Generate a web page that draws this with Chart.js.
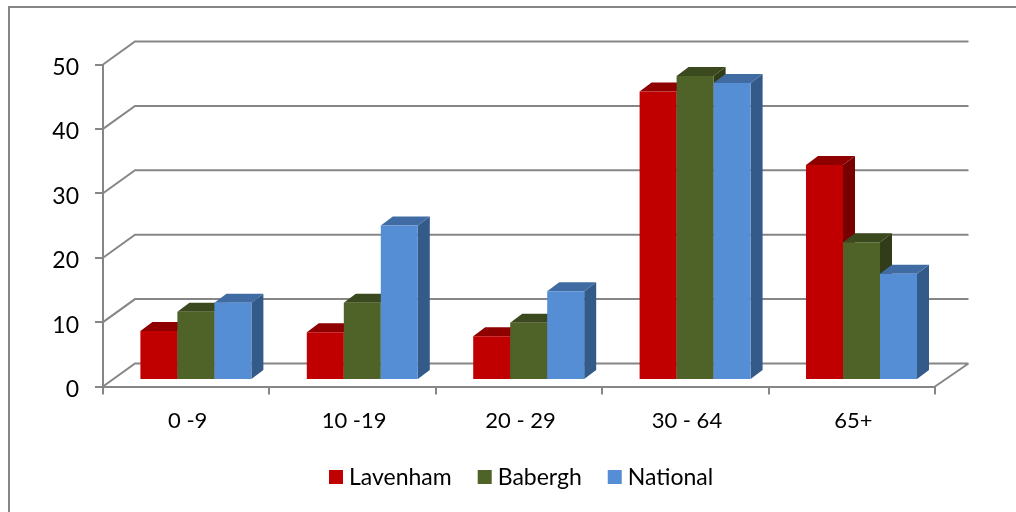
<!DOCTYPE html>
<html>
<head>
<meta charset="utf-8">
<script src="https://cdn.jsdelivr.net/npm/chart.js@4"></script>
<style>
  html, body { margin: 0; padding: 0; background: #fff; }
  #wrap { position: relative; width: 1016px; height: 512px; overflow: hidden; }
</style>
</head>
<body>
<div id="wrap"><canvas id="myChart" width="1016" height="512"></canvas></div>
<script>
const categories = ['0 -9', '10 -19', '20 - 29', '30 - 64', '65+'];
const lavenham = [7.6, 7.4, 6.8, 44.8, 33.4];
const babergh = [10.6, 12, 8.9, 47.2, 21.4];
const national = [12, 24, 13.8, 46.1, 16.5];
const yTicks = [0, 10, 20, 30, 40, 50];

const GREY = '#868686';
const FONT = 'Lato';
const DX = 32, DY = 23;            // depth of the floor
const BAR_DX = 12, BAR_DY = 9;     // depth of a bar
const SHIFT_X = 9.7, SHIFT_Y = -6.5; // bars stand in the middle of the floor

const faces = [
    { top: '#8f0000', side: '#790000' },
    { top: '#3b491e', side: '#313d19' },
    { top: '#406ca3', side: '#345a8a' },
];

function poly(ctx, pts, color) {
    ctx.fillStyle = color;
    ctx.beginPath();
    pts.forEach((p, i) => i ? ctx.lineTo(p[0], p[1]) : ctx.moveTo(p[0], p[1]));
    ctx.closePath();
    ctx.fill();
}

const threeD = {
    id: 'threeD',
    beforeDatasetsDraw(chart) {
        const ctx = chart.ctx;
        const { left, right, bottom } = chart.chartArea;
        const y = chart.scales.y;

        // frame, only left and top are inside the picture
        ctx.save();
        ctx.strokeStyle = GREY;
        ctx.lineWidth = 2;
        ctx.beginPath();
        ctx.moveTo(9, 512);
        ctx.lineTo(9, 7);
        ctx.lineTo(1016, 7);
        ctx.stroke();

        // walls and floor
        ctx.beginPath();
        yTicks.forEach((v) => {
            const py = y.getPixelForValue(v);
            ctx.moveTo(left, py);
            ctx.lineTo(left + DX, py - DY);
            ctx.lineTo(right + DX + 1.5, py - DY);
        });
        ctx.moveTo(right, bottom);
        ctx.lineTo(right + DX + 1.5, bottom - DY);
        ctx.stroke();
        ctx.restore();

        // bars left to right so each one covers the side of the last
        ctx.save();
        ctx.translate(SHIFT_X, SHIFT_Y);
        chart.data.datasets.forEach((ds, i) => {
            chart.getDatasetMeta(i).data.forEach((bar) => {
                const l = bar.x - bar.width / 2, r = bar.x + bar.width / 2;
                poly(ctx, [[r, bar.y], [r + BAR_DX, bar.y - BAR_DY], [r + BAR_DX, bar.base - BAR_DY], [r, bar.base]], faces[i].side);
                poly(ctx, [[l, bar.y], [l + BAR_DX, bar.y - BAR_DY], [r + BAR_DX, bar.y - BAR_DY], [r, bar.y]], faces[i].top);
                bar.draw(ctx);
            });
        });
        ctx.restore();

        // legend, the built in one puts the text too far from the box
        ctx.save();
        ctx.font = '23px ' + FONT;
        ctx.textBaseline = 'middle';
        let x = 329;
        chart.data.datasets.forEach((ds) => {
            ctx.fillStyle = ds.backgroundColor;
            ctx.fillRect(x, 470, 14, 14);
            ctx.fillStyle = '#000';
            ctx.fillText(ds.label, x + 20, 478);
            x += 20 + ctx.measureText(ds.label).width + 26;
        });
        ctx.restore();
        return false;
    }
};

new Chart('myChart', {
    type: 'bar',
    data: {
        labels: categories,
        datasets: [
            { label: 'Lavenham', data: lavenham, backgroundColor: '#c00000' },
            { label: 'Babergh', data: babergh, backgroundColor: '#4f6228' },
            { label: 'National', data: national, backgroundColor: '#558ed5' },
        ]
    },
    plugins: [threeD],
    options: {
        responsive: false,
        animation: false,
        layout: { padding: { left: 0, right: 81, top: 64.5, bottom: 55 } },
        datasets: { bar: { categoryPercentage: 0.667, barPercentage: 1 } },
        plugins: {
            tooltip: { enabled: false },
            legend: { display: false }
        },
        scales: {
            x: {
                afterFit(s) { s.height = 70.5; },
                border: { color: GREY, width: 2 },
                grid: { drawOnChartArea: false, color: GREY, lineWidth: 2, tickLength: 8 },
                ticks: { color: '#000', padding: 13, labelOffset: 1.5, font: { family: FONT, size: 22 }, maxRotation: 0 }
            },
            y: {
                min: 0, max: 50,
                afterFit(s) { s.width = 103; },
                border: { color: GREY, width: 2 },
                grid: { drawOnChartArea: false, color: GREY, lineWidth: 2, tickLength: 8 },
                ticks: {
                    stepSize: 10, color: '#000', padding: 16, labelOffset: 3,
                    font: { family: FONT, size: 23 }
                }
            }
        }
    }
});
</script>
</body>
</html>
